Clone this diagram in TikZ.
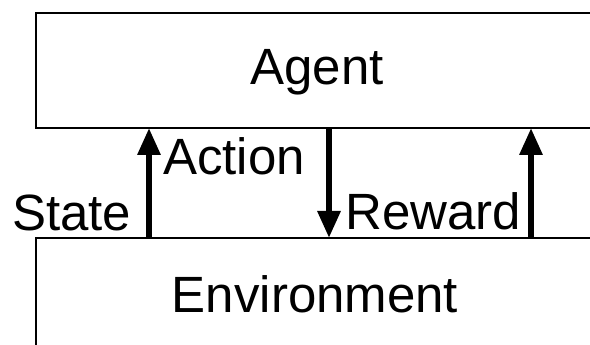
\documentclass[tikz,border=0pt]{standalone}
\usepackage{fontspec}
\setmainfont{Liberation Sans}
\usetikzlibrary{arrows.meta}
\begin{document}
\begin{tikzpicture}[x=1pt,y=1pt,
  block/.style={line width=2pt,rectangle,inner sep=0pt},
  word/.style={inner sep=0pt,font=\fontsize{51}{60}\selectfont},
  flow/.style={line width=6pt,-{Triangle[length=27pt,width=22pt]}}]
  \useasboundingbox (0,0) rectangle (590,345);
  \fill[white] (0,0) rectangle (590,345);
  % the two blocks run off the right and bottom edges: only their
  % visible sides are stroked
  \node[block,minimum width=554pt,minimum height=113pt,anchor=north west] (agent) at (36,332) {};
  \node[block,minimum width=554pt,minimum height=107pt,anchor=north west] (env) at (36,107) {};
  \draw[line width=2pt] (agent.north east) -- (agent.north west) -- (agent.south west) -- (agent.south east);
  \draw[line width=2pt] (env.south west) -- (env.north west) -- (env.north east);
  \node[word,anchor=base] (agentlbl) at (317,260) {Agent};
  \node[word,anchor=base] (envlbl) at (315,32) {Environment};
  % signals between the blocks
  \coordinate (sx) at (149,0);
  \coordinate (ax) at (329,0);
  \coordinate (rx) at (531,0);
  \draw[flow] (env.north -| sx) -- (agent.south -| sx);
  \draw[flow] (agent.south -| ax) -- (env.north -| ax);
  \draw[flow] (env.north -| rx) -- (agent.south -| rx);
  \node[word,anchor=base west] (statelbl) at (12,114) {State};
  \node[word,anchor=base west] (actionlbl) at (163,170) {Action};
  \node[word,anchor=base west] (rewardlbl) at (345,115) {Reward};
\end{tikzpicture}
\end{document}
